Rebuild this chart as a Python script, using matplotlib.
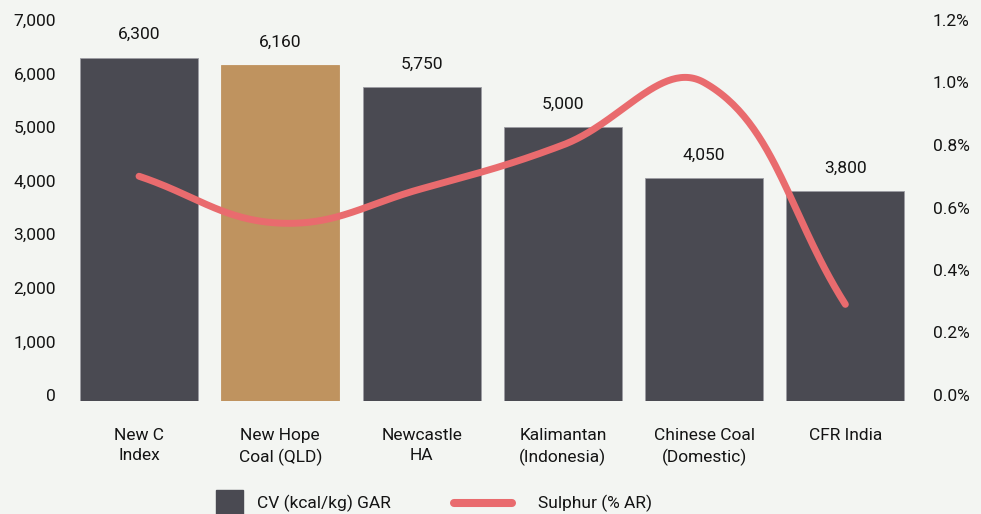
import numpy as np
import matplotlib
matplotlib.use("Agg")
import matplotlib.pyplot as plt
from matplotlib.patches import Rectangle
from matplotlib.lines import Line2D

categories = ["New C\nIndex", "New Hope\nCoal (QLD)", "Newcastle\nHA",
              "Kalimantan\n(Indonesia)", "Chinese Coal\n(Domestic)", "CFR India"]
cv_values = [6300, 6160, 5750, 5000, 4050, 3800]
sulphur_values = [0.70, 0.55, 0.66, 0.80, 1.00, 0.29]
left_ticks = [0, 1000, 2000, 3000, 4000, 5000, 6000, 7000]
right_ticks = [0.0, 0.2, 0.4, 0.6, 0.8, 1.0, 1.2]
legend_labels = ["CV (kcal/kg) GAR", "Sulphur (% AR)"]

BG = "#f3f5f2"
DARK = "#4a4a52"
GOLD = "#bf935f"
RED = "#e96b6e"
TXT = "#141414"
FONT = "Roboto"
FS = 12.5

plt.rcParams["font.family"] = [FONT, "DejaVu Sans"]

W, H = 981, 514
fig = plt.figure(figsize=(W / 100, H / 100), dpi=100, facecolor=BG)

px_left, px_right, px_top, px_bottom = 68.4, 916.0, 17.0, 401.0
ax = fig.add_axes([px_left / W, (H - px_bottom) / H,
                   (px_right - px_left) / W, (px_bottom - px_top) / H])
ax.set_facecolor(BG)

# y-scale: 0 at px 395, 7000 at px 20
ppu = (395 - 20) / 7000.0
ymin = -(px_bottom - 395) / ppu
ymax = 7000 + (20 - px_top) / ppu
ax.set_ylim(ymin, ymax)
ax.set_xlim(-0.5, len(categories) - 0.5)

x = np.arange(len(categories))
colors = [DARK, GOLD, DARK, DARK, DARK, DARK]
edges = ["#9c9ca3", GOLD, "#9c9ca3", "#9c9ca3", "#9c9ca3", "#9c9ca3"]
bar_w = 118 / ((px_right - px_left) / len(categories))
bars = ax.bar(x, np.array(cv_values) - ymin, bottom=ymin, width=bar_w,
              color=colors, edgecolor=edges, linewidth=0.6, zorder=2)

for xi, v in zip(x, cv_values):
    ax.annotate(f"{v:,}", (xi, v), xytext=(0, 16.5), textcoords="offset points",
                ha="center", va="center", fontsize=FS, color=TXT, zorder=5)

ax.set_yticks(left_ticks)
ax.set_yticklabels([f"{t:,}" for t in left_ticks])
ax.set_xticks(x)
ax.set_xticklabels(categories, linespacing=1.45)
ax.tick_params(axis="y", length=0, pad=8.9, labelsize=FS, labelcolor=TXT)
ax.tick_params(axis="x", length=0, pad=19.2, labelsize=FS, labelcolor=TXT)
for s in ax.spines.values():
    s.set_visible(False)

ax2 = ax.twinx()
scale = 1.2 / 7000
ax2.set_ylim(ymin * scale, ymax * scale)
ax2.set_yticks(right_ticks)
ax2.set_yticklabels([f"{t:.1f}%" for t in right_ticks])
ax2.tick_params(axis="y", length=0, pad=12.2, labelsize=FS, labelcolor=TXT)
for s in ax2.spines.values():
    s.set_visible(False)

# Chart.js-style tension spline (tension 0.4) computed in display space
fig.canvas.draw()
pts = ax2.transData.transform(np.column_stack([x, sulphur_values]))
t = 0.4
n = len(pts)
cp_prev = np.zeros_like(pts)
cp_next = np.zeros_like(pts)
for i in range(n):
    prev = pts[i - 1] if i > 0 else pts[i]
    cur = pts[i]
    nxt = pts[i + 1] if i < n - 1 else pts[i]
    d01 = np.hypot(*(cur - prev))
    d12 = np.hypot(*(nxt - cur))
    tot = d01 + d12
    s01 = d01 / tot if tot else 0
    s12 = d12 / tot if tot else 0
    cp_prev[i] = cur - t * s01 * (nxt - prev)
    cp_next[i] = cur + t * s12 * (nxt - prev)
curve = []
u = np.linspace(0, 1, 60)[:, None]
for i in range(n - 1):
    p0, p1, p2, p3 = pts[i], cp_next[i], cp_prev[i + 1], pts[i + 1]
    seg = ((1 - u) ** 3) * p0 + 3 * ((1 - u) ** 2) * u * p1 + 3 * (1 - u) * u ** 2 * p2 + u ** 3 * p3
    curve.append(seg if i == 0 else seg[1:])
curve = np.vstack(curve)
curve_data = ax2.transData.inverted().transform(curve)
ax2.plot(curve_data[:, 0], curve_data[:, 1], color=RED, linewidth=5,
         solid_capstyle="round", solid_joinstyle="round", zorder=4)

# legend
lax = fig.add_axes([0, 0, 1, 50 / H])
lax.set_xlim(0, W)
lax.set_ylim(50, 0)
lax.axis("off")
off = H - 50
lax.add_patch(Rectangle((216, 490 - off), 27, 27, color=DARK, clip_on=True))
lax.text(257, 503.5 - off, legend_labels[0], ha="left", va="center", fontsize=FS, color=TXT)
lax.add_line(Line2D([454, 512], [503.3 - off] * 2, color=RED, linewidth=5.8,
                    solid_capstyle="round"))
lax.text(538, 503.5 - off, legend_labels[1], ha="left", va="center", fontsize=FS, color=TXT)

fig.savefig("out.png", dpi=100, facecolor=BG)
